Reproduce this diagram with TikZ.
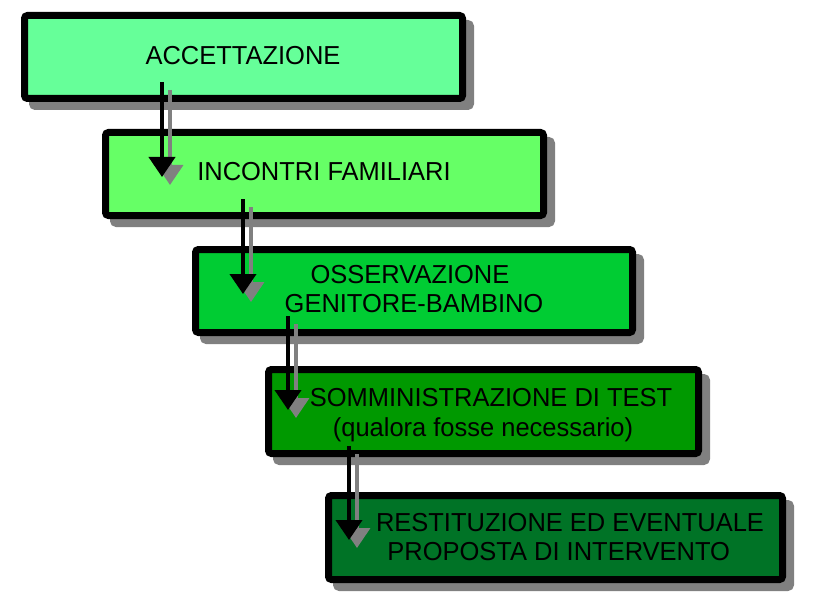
\documentclass[tikz,border=0pt]{standalone}
\usepackage{fontspec}
\setmainfont{Liberation Sans}[FakeStretch=0.98]
\usetikzlibrary{arrows.meta}
\definecolor{cA}{HTML}{66FF99}
\definecolor{cB}{HTML}{66FF66}
\definecolor{cC}{HTML}{00CC33}
\definecolor{cD}{HTML}{009900}
\definecolor{cE}{RGB}{0,115,38}
\definecolor{shade}{HTML}{808080}
\tikzset{
  stepbox/.style={draw=black, line width=7pt, rounded corners=3pt, inner sep=0pt},
  shadowbox/.style={draw=shade, fill=shade, line width=7pt, rounded corners=3pt, inner sep=0pt},
  lbl/.style={anchor=base, inner sep=0pt, font=\fontsize{26}{29}\selectfont},
  blackarrow/.style={draw=black, line width=4pt, -{Triangle[width=26pt,length=20pt]}},
  grayarrow/.style={draw=shade, line width=3.6pt, -{Triangle[width=26pt,length=20pt]}, shade}
}
\begin{document}
\begin{tikzpicture}[x=1pt,y=-1pt]
\useasboundingbox[fill=white] (0,0) rectangle (814,607);
% shadows
\node[shadowbox, minimum width=438pt, minimum height=83pt] (s1) at (251.5,65) {};
\node[shadowbox, minimum width=438pt, minimum height=83pt] (s2) at (332.5,182) {};
\node[shadowbox, minimum width=437pt, minimum height=83pt] (s3) at (422,299) {};
\node[shadowbox, minimum width=430pt, minimum height=84pt] (s4) at (491.5,419.5) {};
\node[shadowbox, minimum width=454pt, minimum height=84pt] (s5) at (563.5,545.5) {};
% boxes
\node[stepbox, fill=cA, minimum width=438pt, minimum height=83pt] (b1) at (243.5,57) {};
\node[stepbox, fill=cB, minimum width=438pt, minimum height=83pt] (b2) at (324.5,174) {};
\node[stepbox, fill=cC, minimum width=437pt, minimum height=83pt] (b3) at (414,291) {};
\node[stepbox, fill=cD, minimum width=430pt, minimum height=84pt] (b4) at (483.5,411.5) {};
\node[stepbox, fill=cE, minimum width=454pt, minimum height=84pt] (b5) at (555.5,537.5) {};
% labels
\node[lbl] (t1) at (243,64.3) {ACCETTAZIONE};
\node[lbl] (t2) at (324,181) {INCONTRI FAMILIARI};
\node[lbl] (t3a) at (410,283.3) {OSSERVAZIONE};
\node[lbl] (t3b) at (414,312.3) {GENITORE-BAMBINO};
\node[lbl] (t4a) at (491,406.7) {SOMMINISTRAZIONE DI TEST};
\node[lbl] (t4b) at (483,436.7) {(qualora fosse necessario)};
\node[lbl] (t5a) at (570,531.7) {RESTITUZIONE ED EVENTUALE};
\node[lbl] (t5b) at (558.7,560) {PROPOSTA DI INTERVENTO};
% arrow end points
\coordinate (k1s) at (162,82);  \coordinate (k1e) at (162,177);
\coordinate (g1s) at (170,90);  \coordinate (g1e) at (170,185);
\coordinate (k2s) at (243,199); \coordinate (k2e) at (243,294);
\coordinate (g2s) at (251,207); \coordinate (g2e) at (251,302);
\coordinate (k3s) at (288,316); \coordinate (k3e) at (288,410);
\coordinate (g3s) at (296,324); \coordinate (g3e) at (296,418);
\coordinate (k4s) at (349,446); \coordinate (k4e) at (349,540);
\coordinate (g4s) at (357,454); \coordinate (g4e) at (357,548);
% arrows
\draw[grayarrow] (g1s) -- (g1e);
\draw[blackarrow] (k1s) -- (k1e);
\draw[grayarrow] (g2s) -- (g2e);
\draw[blackarrow] (k2s) -- (k2e);
\draw[grayarrow] (g3s) -- (g3e);
\draw[blackarrow] (k3s) -- (k3e);
\draw[grayarrow] (g4s) -- (g4e);
\draw[blackarrow] (k4s) -- (k4e);
\end{tikzpicture}
\end{document}
